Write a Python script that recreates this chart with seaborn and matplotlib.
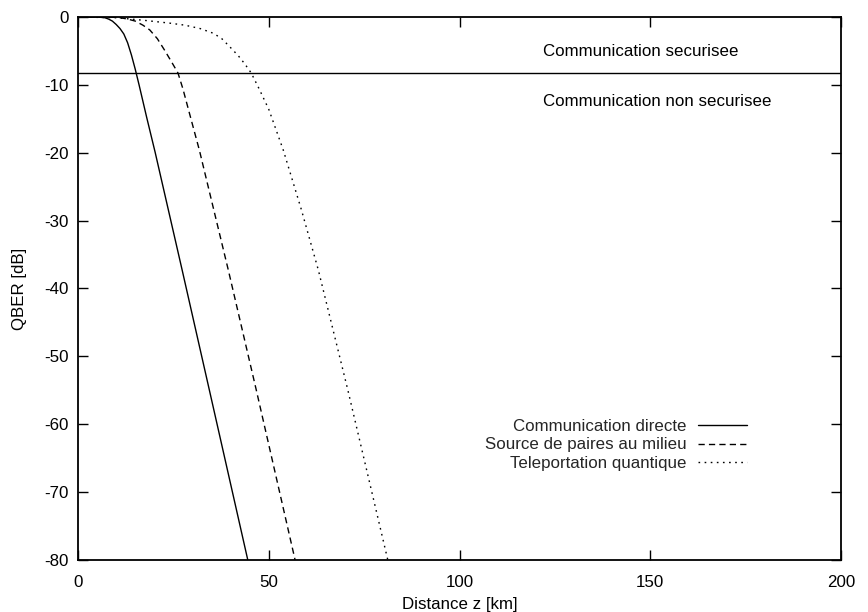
import matplotlib
matplotlib.use("Agg")
import matplotlib.pyplot as plt
import seaborn as sns
import pandas as pd

# --- data ---
directe_km = [0, 5, 7, 8, 9, 10, 11, 12, 13, 14, 15, 16, 17, 18, 20.2, 27.3, 34.4, 44.5]
directe_db = [0, 0, -0.1, -0.3, -0.6, -1.1, -1.7, -2.5, -3.8, -5.6, -7.7, -10.0, -12.4, -14.8, -19.9, -37.3, -54.9, -80]

milieu_km = [0, 8, 11, 13, 15, 17, 18.8, 20.8, 22.7, 24.5, 26.2, 27.5, 29.5, 31.8, 39.4, 46.7, 56.9]
milieu_db = [0, 0, -0.1, -0.3, -0.6, -1.2, -1.9, -3.2, -4.9, -6.6, -8.25, -10.6, -14.8, -19.6, -37.3, -54.9, -80]

telep_km = [0, 10, 17.5, 24, 28, 32, 35.5, 37.7, 39.8, 42, 43.7, 45.4, 47.4, 50, 53.8, 58.5, 63, 70.7, 81.2]
telep_db = [0, -0.1, -0.5, -0.9, -1.2, -1.7, -2.4, -3.2, -4.4, -5.7, -6.9, -8.25, -10.5, -13.6, -19.6, -28.3, -37.3, -54.9, -80]

seuil_db = -8.24
labels = ["Communication directe", "Source de paires au milieu", "Teleportation quantique"]
zone_labels = ["Communication securisee", "Communication non securisee"]
x_ticks = [0, 50, 100, 150, 200]
y_ticks = [0, -10, -20, -30, -40, -50, -60, -70, -80]

sns.set_theme(style="ticks")
plt.rcParams['font.family'] = ['Liberation Sans', 'DejaVu Sans']
FS = 12.2

fig = plt.figure(figsize=(8.68, 6.12), dpi=100)
ax = fig.add_axes([0.0899, 0.085, 0.879, 0.8872])

styles = ["-", (0, (4.5, 3)), (0, (1.2, 3.2))]
series = [(directe_km, directe_db), (milieu_km, milieu_db), (telep_km, telep_db)]
for (xs, ys), lab, ls in zip(series, labels, styles):
    df = pd.DataFrame({"km": xs, "db": ys})
    sns.lineplot(data=df, x="km", y="db", ax=ax, color="black", linewidth=1.0,
                 linestyle=ls, label=lab, sort=True, errorbar=None)

ax.axhline(seuil_db, color="black", linewidth=1.0)

ax.text(122.0, -5.1, zone_labels[0], fontsize=FS, ha="left", va="center", color="black")
ax.text(122.0, -12.5, zone_labels[1], fontsize=FS, ha="left", va="center", color="black")

ax.set_xlim(0, 200)
ax.set_ylim(-80, 0)
ax.set_xticks(x_ticks)
ax.set_yticks(y_ticks)
ax.set_xticklabels([str(v) for v in x_ticks])
ax.set_yticklabels([str(v) for v in y_ticks])
ax.tick_params(direction="in", length=7, width=1, top=True, right=True,
               labelsize=FS, colors="black")
ax.tick_params(axis="x", pad=11)
ax.tick_params(axis="y", pad=7)
for s in ax.spines.values():
    s.set_visible(True)
    s.set_linewidth(1.3)
    s.set_color("black")

ax.set_xlabel("Distance z [km]", fontsize=FS, color="black")
ax.xaxis.set_label_coords(0.5, -0.069)
ax.set_ylabel("QBER [dB]", fontsize=FS, labelpad=12, color="black")

leg = ax.legend(loc="upper right", bbox_to_anchor=(0.886, 0.272), frameon=False,
                markerfirst=False, fontsize=FS, handlelength=2.9, handletextpad=0.7,
                labelspacing=0.2, borderaxespad=0)
# right-justify the entries (gnuplot style): align item boxes to the right
for col in leg._legend_handle_box.get_children():
    col.align = "right"

fig.savefig("out.png", dpi=100)
